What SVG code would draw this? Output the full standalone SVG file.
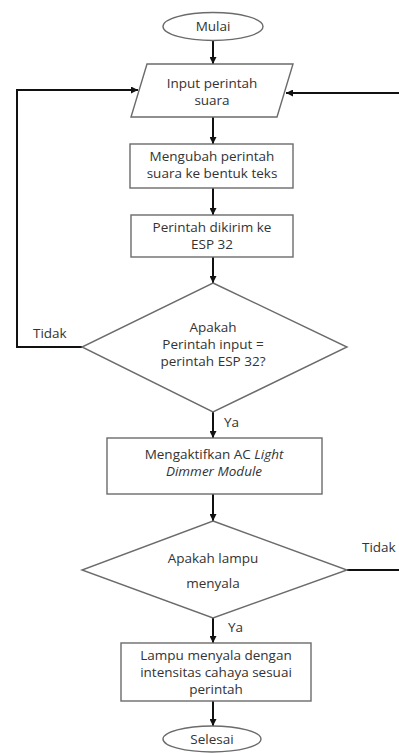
<svg xmlns="http://www.w3.org/2000/svg" width="399" height="753" viewBox="0 0 399 753">
<style>
.shape{fill:#fff;stroke:#6b6b6b;stroke-width:1.4}
.conn{fill:none;stroke:#111;stroke-width:2}
text{font-family:"Open Sans","Noto Sans","Liberation Sans",sans-serif;font-size:13.5px;fill:#333;text-anchor:middle}
.lbl{text-anchor:start}
.it{font-style:italic}
</style>
<defs>
<marker id="ah" viewBox="0 0 10 10" refX="10" refY="5" markerWidth="7" markerHeight="7" markerUnits="userSpaceOnUse" orient="auto">
<path d="M0,0 L10,5 L0,10 z" fill="#111"/>
</marker>
</defs>
<rect width="399" height="753" fill="#fff"/>
<g id="connectors">
<line class="conn" x1="213" y1="40" x2="213" y2="64" marker-end="url(#ah)"/>
<line class="conn" x1="213" y1="117" x2="213" y2="144" marker-end="url(#ah)"/>
<line class="conn" x1="213" y1="188" x2="213" y2="215" marker-end="url(#ah)"/>
<line class="conn" x1="213" y1="257" x2="213" y2="283" marker-end="url(#ah)"/>
<line class="conn" x1="213" y1="412" x2="213" y2="438" marker-end="url(#ah)"/>
<line class="conn" x1="213" y1="494" x2="213" y2="521" marker-end="url(#ah)"/>
<line class="conn" x1="213" y1="618" x2="213" y2="643" marker-end="url(#ah)"/>
<line class="conn" x1="213" y1="701" x2="213" y2="726" marker-end="url(#ah)"/>
<polyline class="conn" points="82,347 17,347 17,90 138,90" marker-end="url(#ah)"/>
<line class="conn" x1="399" y1="93" x2="286" y2="93" marker-end="url(#ah)"/>
<line class="conn" x1="347" y1="570" x2="399" y2="570"/>
<text class="lbl" x="33" y="338">Tidak</text>
<text class="lbl" x="224" y="427">Ya</text>
<text class="lbl" x="362" y="552">Tidak</text>
<text class="lbl" x="228" y="632">Ya</text>
</g>
<g id="mulai">
<ellipse class="shape" cx="213" cy="26.5" rx="50" ry="14"/>
<text x="213" y="31">Mulai</text>
</g>
<g id="input">
<polygon class="shape" points="147,64 293,64 277,117 131,117"/>
<text x="212" y="88">Input perintah</text>
<text x="212" y="105">suara</text>
</g>
<g id="ubah">
<rect class="shape" x="130" y="144" width="163" height="44"/>
<text x="212" y="161">Mengubah perintah</text>
<text x="212" y="178">suara ke bentuk teks</text>
</g>
<g id="kirim">
<rect class="shape" x="131" y="215" width="162" height="42"/>
<text x="212" y="232">Perintah dikirim ke</text>
<text x="212" y="249">ESP 32</text>
</g>
<g id="cek1">
<polygon class="shape" points="213,283 347,347 213,412 82,347"/>
<text x="213" y="332">Apakah</text>
<text x="213" y="349">Perintah input =</text>
<text x="213" y="366">perintah ESP 32?</text>
</g>
<g id="aktif">
<rect class="shape" x="107" y="438" width="215" height="56"/>
<text x="214" y="459">Mengaktifkan AC <tspan class="it">Light</tspan></text>
<text x="214" y="476" class="it">Dimmer Module</text>
</g>
<g id="cek2">
<polygon class="shape" points="213,521 347,570 213,618 82,570"/>
<text x="213" y="563">Apakah lampu</text>
<text x="213" y="588">menyala</text>
</g>
<g id="nyala">
<rect class="shape" x="121" y="643" width="190" height="58"/>
<text x="216" y="660">Lampu menyala dengan</text>
<text x="216" y="677">intensitas cahaya sesuai</text>
<text x="216" y="694">perintah</text>
</g>
<g id="selesai">
<ellipse class="shape" cx="212" cy="739" rx="49" ry="13"/>
<text x="212" y="744">Selesai</text>
</g>
</svg>
